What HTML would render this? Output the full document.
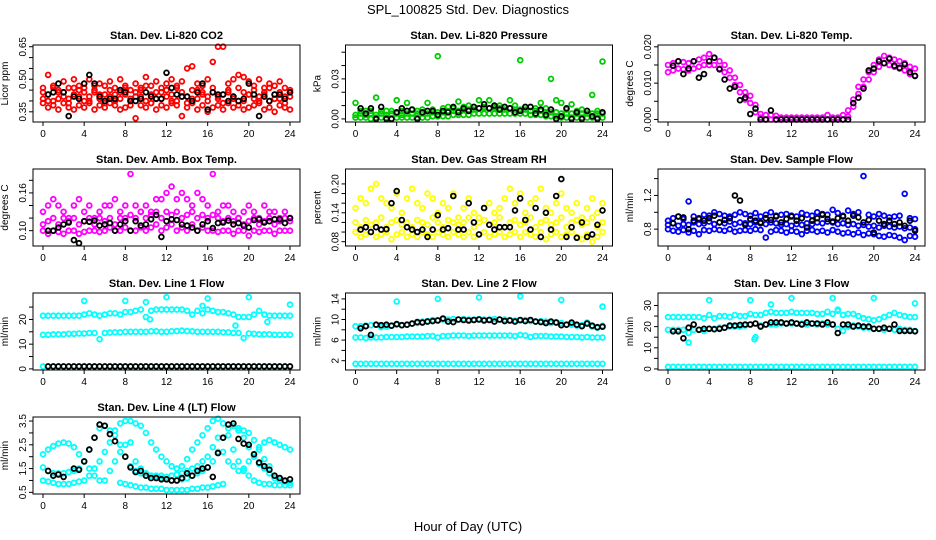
<!DOCTYPE html>
<html><head><meta charset="utf-8">
<style>
body{margin:0;background:#fff;}
svg{display:block;font-family:"Liberation Sans",Arial,sans-serif;}
</style></head>
<body>
<svg id="chart" width="936" height="540" viewBox="0 0 936 540" xmlns="http://www.w3.org/2000/svg">
<rect width="936" height="540" fill="#fff"/>
<text x="468" y="14" text-anchor="middle" font-size="13">SPL_100825  Std. Dev. Diagnostics</text>
<text x="468" y="531" text-anchor="middle" font-size="13">Hour of Day (UTC)</text>
<g id="panels"></g>
</svg>
<script>
// ---- data ----
const H=[0,0.5,1,1.5,2,2.5,3,3.5,4,4.5,5,5.5,6,6.5,7,7.5,8,8.5,9,9.5,10,10.5,11,11.5,12,12.5,13,13.5,14,14.5,15,15.5,16,16.5,17,17.5,18,18.5,19,19.5,20,20.5,21,21.5,22,22.5,23,23.5,24];
const xTicks=[0,4,8,12,16,20,24];

const co2Upper=[0.46,0.52,0.47,0.45,0.49,0.46,0.50,0.47,0.46,0.50,0.45,0.48,0.47,0.49,0.46,0.50,0.47,0.45,0.48,0.46,0.51,0.47,0.49,0.46,0.48,0.50,0.47,0.49,0.55,0.56,0.48,0.47,0.50,0.58,0.65,0.65,0.48,0.50,0.52,0.51,0.49,0.47,0.50,0.46,0.48,0.47,0.49,0.46,0.45];
const co2Mid=[0.41,0.43,0.40,0.44,0.42,0.41,0.43,0.45,0.40,0.42,0.44,0.41,0.43,0.42,0.40,0.44,0.43,0.41,0.42,0.45,0.40,0.43,0.41,0.44,0.42,0.43,0.40,0.44,0.42,0.41,0.45,0.43,0.42,0.44,0.41,0.43,0.45,0.42,0.40,0.44,0.43,0.41,0.42,0.44,0.40,0.43,0.41,0.42,0.44];
const co2Mid2=[0.44,0.40,0.46,0.41,0.44,0.39,0.46,0.42,0.44,0.40,0.47,0.43,0.39,0.45,0.43,0.41,0.46,0.40,0.44,0.42,0.47,0.39,0.44,0.41,0.45,0.40,0.46,0.42,0.39,0.45,0.41,0.44,0.40,0.46,0.42,0.39,0.44,0.41,0.46,0.40,0.43,0.45,0.40,0.43,0.46,0.41,0.44,0.39,0.42];
const co2Low=[0.39,0.37,0.38,0.36,0.39,0.37,0.36,0.38,0.37,0.39,0.36,0.38,0.37,0.39,0.38,0.36,0.37,0.38,0.32,0.38,0.37,0.39,0.36,0.38,0.37,0.39,0.38,0.33,0.37,0.39,0.36,0.38,0.35,0.37,0.38,0.36,0.39,0.37,0.38,0.36,0.37,0.38,0.39,0.36,0.37,0.35,0.38,0.37,0.36];
const co2Black=[null,0.43,0.44,0.48,0.44,0.33,0.42,0.41,0.48,0.52,0.48,0.42,0.40,0.41,0.41,0.45,0.44,0.40,0.40,0.41,0.44,0.42,0.41,0.41,0.53,0.46,0.43,0.42,0.42,0.40,0.44,0.48,0.36,0.44,0.43,0.43,0.40,0.42,0.40,0.41,0.48,0.43,0.33,0.42,0.40,0.43,0.43,0.41,0.44];

const presLow=[0.001,0.001,0.001,0,0.001,0.001,0.001,0,0.001,0.001,0.001,0.001,0.001,0.001,0.001,0.002,0.002,0.002,0.002,0.003,0.003,0.003,0.003,0.004,0.004,0.004,0.004,0.004,0.004,0.004,0.004,0.004,0.004,0.004,0.003,0.003,0.003,0.002,0.002,0.002,0.001,0.001,0.001,0.001,0.001,0.001,0.001,0.001,0.001];
const presMid=[0.003,0.004,0.003,0.004,0.003,0.004,0.003,0.004,0.004,0.003,0.004,0.004,0.004,0.004,0.004,0.005,0.005,0.005,0.006,0.006,0.006,0.007,0.007,0.007,0.008,0.008,0.008,0.008,0.008,0.007,0.008,0.007,0.007,0.007,0.006,0.006,0.006,0.005,0.005,0.005,0.004,0.004,0.004,0.004,0.004,0.004,0.004,0.004,0.004];
const presHigh=[0.012,0.006,0.006,0.006,0.016,0.006,0.006,0.006,0.014,0.006,0.012,0.007,0.006,0.007,0.012,0.007,0.047,0.008,0.009,0.008,0.013,0.009,0.010,0.009,0.014,0.009,0.014,0.009,0.010,0.009,0.014,0.010,0.044,0.009,0.009,0.008,0.012,0.008,0.030,0.014,0.012,0.007,0.011,0.006,0.007,0.006,0.018,0.006,0.043];
const presBlack=[null,0.008,0.004,0.008,0.0,0.009,0.0,0.0,0.005,0.008,0.006,0.007,0.0,0.005,0.006,0.006,0.003,0.006,0.005,0.009,0.005,0.008,0.006,0.009,0.008,0.011,0.008,0.010,0.007,0.009,0.008,0.005,0.006,0.009,0.009,0.004,0.007,0.003,0.007,0.0,0.002,0.008,0.0,0.005,0.0,0.006,0.002,0.0,0.005];

const tempHigh=[0.0150,0.0155,0.0160,0.0158,0.0155,0.0160,0.0165,0.0170,0.0180,0.0170,0.0160,0.0150,0.0135,0.0115,0.0095,0.0075,0.0065,0.0040,0.0015,0.0012,0.0012,0.0010,0.0005,0.0005,0.0005,0.0005,0.0005,0.0005,0.0005,0.0005,0.0005,0.0012,0.0005,0.0005,0.0012,0.0025,0.0055,0.0090,0.0110,0.0130,0.0150,0.0165,0.0175,0.0170,0.0165,0.0160,0.0155,0.0145,0.0140];
const tempLow=[0.0130,0.0135,0.0140,0.0138,0.0135,0.0140,0.0145,0.0150,0.0150,0.0150,0.0140,0.0130,0.0115,0.0095,0.0075,0.0055,0.0045,0.0020,0.0005,0,0,0,0,0,0,0,0,0,0,0,0,0,0,0,0,0.0008,0.0035,0.0070,0.0090,0.0110,0.0130,0.0145,0.0155,0.0150,0.0145,0.0140,0.0135,0.0125,0.0120];
const tempBlack=[null,0.0148,0.0160,0.0125,0.0140,0.0160,0.0115,0.0125,0.0160,0.0170,0.0138,0.0110,0.0085,0.0090,0.0053,0.0060,0.0015,0.0030,0,0,0.0025,0,0,0,0,0,0,0,0,0,0,0,0,0,0,0,0.0045,0.0060,0.0085,0.0135,0.0140,0.0160,0.0155,0.0167,0.0148,0.0142,0.0152,0.0130,0.0120];

const ambUpper=[0.13,0.14,0.15,0.14,0.13,0.12,0.14,0.15,0.13,0.14,0.12,0.13,0.14,0.14,0.15,0.13,0.14,0.19,0.14,0.13,0.14,0.13,0.15,0.15,0.16,0.17,0.15,0.16,0.15,0.14,0.16,0.15,0.14,0.19,0.13,0.14,0.14,0.13,0.12,0.13,0.14,0.13,0.12,0.14,0.13,0.13,0.12,0.13,0.12];
const ambMid=[0.11,0.115,0.12,0.11,0.12,0.115,0.12,0.11,0.115,0.12,0.11,0.12,0.115,0.12,0.11,0.12,0.12,0.125,0.12,0.13,0.12,0.125,0.13,0.12,0.13,0.125,0.13,0.12,0.125,0.13,0.12,0.125,0.12,0.125,0.12,0.115,0.12,0.115,0.12,0.11,0.115,0.12,0.11,0.115,0.12,0.11,0.115,0.12,0.115];
const ambLow=[0.10,0.095,0.10,0.098,0.095,0.10,0.10,0.095,0.098,0.10,0.10,0.098,0.10,0.105,0.10,0.10,0.105,0.10,0.10,0.105,0.10,0.105,0.11,0.10,0.105,0.11,0.10,0.105,0.10,0.11,0.10,0.105,0.10,0.10,0.098,0.10,0.10,0.095,0.10,0.10,0.092,0.10,0.098,0.10,0.10,0.095,0.10,0.10,0.10];
const ambBlack=[null,0.10,0.10,0.105,0.11,0.113,0.085,0.08,0.115,0.114,0.116,0.108,0.11,0.112,0.10,0.11,0.115,0.10,0.115,0.108,0.11,0.118,0.125,0.09,0.115,0.118,0.117,0.11,0.108,0.105,0.10,0.11,0.115,0.104,0.112,0.113,0.116,0.11,0.112,0.108,0.105,0.117,0.118,0.113,0.115,0.118,0.118,0.112,0.12];

const rhUpper=[0.15,0.17,0.16,0.19,0.20,0.17,0.16,0.15,0.18,0.14,0.17,0.19,0.16,0.15,0.18,0.17,0.14,0.16,0.15,0.18,0.13,0.15,0.17,0.14,0.13,0.15,0.16,0.14,0.15,0.17,0.19,0.16,0.18,0.14,0.16,0.17,0.19,0.15,0.14,0.16,0.18,0.15,0.14,0.16,0.13,0.15,0.17,0.14,0.16];
const rhMid=[0.12,0.11,0.125,0.115,0.12,0.13,0.11,0.12,0.125,0.115,0.12,0.11,0.125,0.12,0.115,0.13,0.12,0.11,0.125,0.12,0.115,0.12,0.13,0.11,0.12,0.125,0.115,0.12,0.13,0.11,0.12,0.125,0.115,0.12,0.13,0.11,0.12,0.125,0.115,0.12,0.13,0.11,0.12,0.125,0.115,0.12,0.13,0.11,0.12];
const rhLow=[0.10,0.09,0.095,0.10,0.09,0.095,0.10,0.085,0.095,0.10,0.09,0.095,0.09,0.10,0.095,0.09,0.10,0.095,0.09,0.10,0.095,0.09,0.10,0.09,0.095,0.10,0.09,0.095,0.10,0.09,0.095,0.10,0.09,0.10,0.095,0.09,0.10,0.085,0.095,0.10,0.09,0.095,0.10,0.09,0.085,0.095,0.08,0.09,0.10];
const rhBlack=[null,0.105,0.11,0.10,0.11,0.105,0.106,0.16,0.185,0.125,0.11,0.105,0.10,0.105,0.09,0.105,0.135,0.105,0.108,0.175,0.105,0.105,0.16,0.12,0.095,0.15,0.115,0.105,0.11,0.11,0.11,0.145,0.17,0.125,0.105,0.15,0.09,0.14,0.105,0.175,0.21,0.09,0.11,0.088,0.12,0.09,0.095,0.115,0.145];

const sfUpper=[0.90,0.93,0.95,0.92,1.13,0.95,0.93,0.97,0.96,1.00,0.98,0.96,0.95,0.97,1.00,0.98,0.96,0.99,0.95,0.97,1.00,0.96,0.97,0.98,0.96,0.95,0.99,0.97,0.96,1.00,0.98,0.97,1.03,0.99,0.96,1.02,0.98,1.00,1.43,0.97,0.95,0.98,0.96,0.94,0.95,0.96,1.22,0.93,0.92];
const sfMid=[0.85,0.87,0.84,0.86,0.85,0.88,0.86,0.87,0.89,0.86,0.88,0.87,0.89,0.86,0.88,0.87,0.86,0.88,0.87,0.86,0.88,0.87,0.85,0.86,0.84,0.86,0.85,0.87,0.86,0.88,0.87,0.89,0.88,0.86,0.87,0.85,0.86,0.84,0.85,0.83,0.84,0.82,0.84,0.83,0.82,0.83,0.81,0.82,0.80];
const sfLow=[0.80,0.78,0.77,0.79,0.76,0.78,0.74,0.79,0.78,0.80,0.79,0.78,0.80,0.77,0.78,0.79,0.78,0.80,0.79,0.70,0.77,0.79,0.78,0.76,0.78,0.77,0.74,0.78,0.79,0.77,0.78,0.76,0.79,0.77,0.75,0.76,0.74,0.76,0.73,0.75,0.74,0.72,0.71,0.73,0.72,0.70,0.67,0.72,0.71];
const sfBlack=[null,0.87,0.95,0.94,0.80,0.90,0.92,0.90,0.93,0.96,0.88,0.91,0.93,1.20,1.14,0.85,0.92,0.90,0.88,0.93,0.91,0.95,0.88,0.92,0.95,0.90,0.93,0.82,0.90,0.93,0.97,0.92,0.89,0.93,0.95,0.90,0.96,0.94,0.88,0.91,0.76,0.90,0.86,0.90,0.86,0.88,0.84,0.90,0.78];

const l1Upper=[21.5,21.5,21.5,21.5,21.5,21.5,21.5,21.5,22.0,22.5,22.0,21.5,22.0,22.5,22.5,22.0,23.0,23.0,23.5,24.0,21.0,23.5,24.0,24.0,24.0,24.0,24.0,24.0,23.5,22.0,23.5,22.5,24.0,23.5,23.0,23.0,22.5,22.0,21.0,21.0,21.0,22.0,23.5,22.0,21.5,21.5,21.5,21.5,21.5];
const l1Mid=[13.8,13.8,14.0,14.0,14.0,14.2,14.2,14.3,14.3,14.5,14.5,12.0,14.5,14.7,14.8,14.8,15.0,15.0,15.0,15.0,15.0,15.2,15.2,15.0,15.0,15.2,15.3,15.5,15.3,15.2,15.0,15.0,15.0,15.0,15.0,14.8,14.8,14.5,14.5,12.5,14.3,14.2,14.0,14.0,14.0,13.8,13.8,13.8,13.8];
const l1Low=[1,1,1,1,1,1,1,1,1,1,1,1,1,1,1,1,1,1,1,1,1,1,1,1,1,1,1,1,1,1,1,1,1,1,1,1,1,1,1,1,1,1,1,1,1,1,1,1,1];
const l1OutHours=[4,8,10,10.4,12,15.5,16,18.7,20,21.8,24];
const l1OutVals=[27.5,27.5,27,20,29,25.5,28.5,17.5,29,19,26];
const l1Black=[null,1,1,1,1,1,1,1,1,1,1,1,1,1,1,1,1,1,1,1,1,1,1,1,1,1,1,1,1,1,1,1,1,1,1,1,1,1,1,1,1,1,1,1,1,1,1,1,1];

const l2Upper=[8.7,8.7,8.8,8.9,9.0,8.5,8.6,8.8,9.0,8.9,9.0,9.2,9.3,9.6,9.7,9.9,9.9,10.0,10.0,10.1,10.0,10.1,10.0,10.0,10.1,10.0,10.0,10.1,10.0,10.0,9.9,9.8,9.8,9.9,9.7,9.6,9.7,9.6,9.3,9.5,9.3,9.0,9.0,8.8,8.9,9.4,8.6,8.4,8.8];
const l2Mid=[6.5,6.5,6.4,6.5,6.5,6.5,6.6,6.6,6.6,6.6,6.7,6.7,6.7,6.7,6.8,6.8,6.5,6.8,6.8,6.9,6.9,6.9,6.8,6.9,6.9,6.9,6.9,6.9,6.9,6.9,6.9,6.8,7.0,6.9,6.6,6.8,6.8,6.8,6.7,6.7,6.7,6.6,6.6,6.6,6.5,6.6,6.5,6.5,6.5];
const l2Low=[1.4,1.4,1.4,1.4,1.4,1.4,1.4,1.4,1.4,1.4,1.4,1.4,1.4,1.4,1.4,1.4,1.4,1.4,1.4,1.4,1.4,1.4,1.4,1.4,1.4,1.4,1.4,1.4,1.4,1.4,1.4,1.4,1.4,1.4,1.4,1.4,1.4,1.4,1.4,1.4,1.4,1.4,1.4,1.4,1.4,1.4,1.4,1.4,1.4];
const l2OutHours=[4,8,12,16,20,24];
const l2OutVals=[13.5,14,14.3,14.5,13.8,12.5];
const l2Black=[null,8.3,8.7,7.0,9.0,8.9,9.0,8.8,9.1,8.9,9.0,9.2,9.5,9.4,9.6,9.7,9.8,10.2,9.6,9.5,10.0,9.9,9.8,9.9,10.0,9.8,9.9,9.6,10.0,9.7,9.8,9.6,9.9,9.7,9.9,9.6,9.5,9.3,9.6,9.4,8.9,9.0,9.4,9.0,8.7,9.2,8.8,8.5,8.6];

const l3Upper=[24.5,24.5,24.5,24.5,24.5,24.5,24.5,24.0,25.5,24.0,25.0,25.0,24.5,25.5,25.0,25.0,26.0,25.5,25.5,26.5,27.0,26.5,26.5,26.5,27.0,26.5,26.5,26.5,26.5,26.0,26.0,27.0,26.0,27.5,25.5,26.0,26.0,25.0,24.0,23.5,23.0,23.5,24.5,25.5,26.5,25.5,25.0,24.5,24.5];
const l3Mid=[18.5,18.5,18.5,18.5,17.0,18.5,18.5,18.0,19.0,19.0,19.5,19.5,20.0,20.0,20.0,20.5,21.0,15.0,20.5,21.0,21.0,21.0,21.5,21.5,21.5,21.5,21.5,21.0,21.5,21.0,21.5,21.0,21.0,19.0,18.0,20.0,20.5,20.0,19.5,19.5,19.0,19.0,18.5,19.0,18.5,19.0,18.5,18.5,18.0];
const l3Low=[1,1,1,1,1,1,1,1,1,1,1,1,1,1,1,1,1,1,1,1,1,1,1,1,1,1,1,1,1,1,1,1,1,1,1,1,1,1,1,1,1,1,1,1,1,1,1,1,1];
const l3OutHours=[2,4,8,8.4,10,12,16,16.5,20,24];
const l3OutVals=[12.5,32.5,32.5,14,30.5,33.5,33.5,28,33.5,31];
const l3Black=[null,17.8,17.8,14.5,19.5,21,18.5,19,19,18.8,19,19.5,20.5,20.5,20.8,21,21,21.5,20,21,22,22,22,21.5,22,21.5,21,22,21.5,21.5,21,22,21,17,21,21,20,20.5,20,20,19,19,19.5,19,21,18,18,18,17.8];

const l4A=[2.1,2.3,2.45,2.55,2.6,2.55,2.4,2.1,1.8,1.5,1.2,1.0,1.0,1.4,1.8,2.2,2.5,2.6,1.8,1.5,1.3,1.2,1.2,1.2,1.15,1.2,1.25,1.3,1.4,1.5,1.6,1.8,2.0,2.4,2.8,2.2,1.8,1.6,1.4,1.5,1.8,2.1,2.4,2.6,2.7,2.6,2.5,2.4,2.3];
const l4B=[1.55,1.4,1.3,1.3,1.3,1.35,1.4,1.5,1.8,2.3,2.8,3.2,3.3,3.1,2.9,2.5,2.0,1.6,1.4,1.3,1.3,1.2,1.15,1.1,1.05,1.0,1.0,1.05,1.1,1.2,1.3,1.4,1.55,1.8,2.2,2.8,3.2,3.3,3.1,2.8,2.4,2.0,1.7,1.5,1.3,1.1,1.0,0.95,0.9];
const l4C=[1.0,0.95,0.9,0.85,0.85,0.85,0.9,0.95,1.0,1.2,1.5,1.8,2.2,2.6,3.1,3.4,3.5,3.5,3.4,3.3,3.0,2.6,2.3,2.0,1.8,1.6,1.5,1.6,1.9,2.3,2.6,2.9,3.2,3.5,3.6,3.4,2.9,2.3,1.8,1.4,1.2,1.0,0.9,0.85,0.85,0.8,0.8,0.8,0.8];
const l4D=[null,null,null,null,null,null,null,null,null,null,null,null,null,null,null,0.9,0.85,0.8,0.75,0.7,0.7,0.65,0.65,0.65,0.6,0.6,0.6,0.6,0.6,0.65,0.65,0.7,0.7,0.75,0.8,0.85,null,3.3,3.2,3.1,3.0,2.7,2.3,1.9,1.6,null,null,null,null];
const l4Black=[null,1.4,1.2,1.25,1.15,null,1.5,1.45,1.8,2.3,2.8,3.35,3.3,2.95,2.65,null,2.0,1.55,1.35,1.4,1.2,1.1,1.1,1.05,1.05,1.0,1.0,1.1,1.3,1.2,1.4,1.5,1.55,1.15,2.15,2.8,3.35,3.4,2.75,2.55,2.5,2.1,1.75,1.6,1.45,1.2,1.1,1.0,1.05];

// ---- layout / rendering ----
const NS='http://www.w3.org/2000/svg';
const root=document.getElementById('panels');
function mk(tag,attrs,parent){const e=document.createElementNS(NS,tag);for(const k in attrs)e.setAttribute(k,attrs[k]);(parent||root).appendChild(e);return e;}

const RED='#ff0000',GRN='#00cd00',MAG='#ff00ff',YEL='#ffff00',BLU='#0000ff',CYN='#00ffff',BLK='#000000';
const panels=[
 {c:0,r:0,name:'co2',title:'Stan. Dev. Li-820 CO2',ylab:'Licor ppm',ymin:0.303,ymax:0.658,ticks:[0.35,0.40,0.45,0.50,0.55,0.60,0.65],labels:[0.35,0.50,0.65],fmt:2,
  series:[[H,co2Upper,RED],[H,co2Mid,RED],[H,co2Mid2,RED],[H,co2Low,RED],[H,co2Black,BLK]]},
 {c:1,r:0,name:'pressure',title:'Stan. Dev. Li-820 Pressure',ylab:'kPa',ymin:-0.0023,ymax:0.0554,ticks:[0,0.01,0.02,0.03,0.04,0.05],labels:[0,0.03],fmt:2,
  series:[[H,presLow,GRN],[H,presMid,GRN],[H,presHigh,GRN],[H,presBlack,BLK]]},
 {c:2,r:0,name:'temp',title:'Stan. Dev. Li-820 Temp.',ylab:'degrees C',ymin:-0.0007,ymax:0.0205,ticks:[0,0.005,0.010,0.015,0.020],labels:[0,0.010,0.020],fmt:3,
  series:[[H,tempHigh,MAG],[H,tempLow,MAG],[H,tempBlack,BLK]]},
 {c:0,r:1,name:'amb-box-temp',title:'Stan. Dev. Amb. Box Temp.',ylab:'degrees C',ymin:0.0756,ymax:0.198,ticks:[0.10,0.12,0.14,0.16,0.18],labels:[0.10,0.16],fmt:2,
  series:[[H,ambUpper,MAG],[H,ambMid,MAG],[H,ambLow,MAG],[H,ambBlack,BLK]]},
 {c:1,r:1,name:'gas-rh',title:'Stan. Dev. Gas Stream RH',ylab:'percent',ymin:0.071,ymax:0.231,ticks:[0.08,0.10,0.12,0.14,0.16,0.18,0.20],labels:[0.08,0.14,0.20],fmt:2,
  series:[[H,rhUpper,YEL],[H,rhMid,YEL],[H,rhLow,YEL],[H,rhBlack,BLK]]},
 {c:2,r:1,name:'sample-flow',title:'Stan. Dev. Sample Flow',ylab:'ml/min',ymin:0.60,ymax:1.514,ticks:[0.8,1.0,1.2,1.4],labels:[0.8,1.2],fmt:1,
  series:[[H,sfUpper,BLU],[H,sfMid,BLU],[H,sfLow,BLU],[H,sfBlack,BLK]]},
 {c:0,r:2,name:'line1-flow',title:'Stan. Dev. Line 1 Flow',ylab:'ml/min',ymin:-0.45,ymax:30.7,ticks:[0,5,10,15,20,25],labels:[0,10,20],fmt:0,
  series:[[H,l1Upper,CYN],[H,l1Mid,CYN],[H,l1Low,CYN],[l1OutHours,l1OutVals,CYN],[H,l1Black,BLK]]},
 {c:1,r:2,name:'line2-flow',title:'Stan. Dev. Line 2 Flow',ylab:'ml/min',ymin:0.19,ymax:15.15,ticks:[2,4,6,8,10,12,14],labels:[2,6,10,14],fmt:0,
  series:[[H,l2Upper,CYN],[H,l2Mid,CYN],[H,l2Low,CYN],[l2OutHours,l2OutVals,CYN],[H,l2Black,BLK]]},
 {c:2,r:2,name:'line3-flow',title:'Stan. Dev. Line 3 Flow',ylab:'ml/min',ymin:-0.5,ymax:35.9,ticks:[0,5,10,15,20,25,30],labels:[0,10,20,30],fmt:0,
  series:[[H,l3Upper,CYN],[H,l3Mid,CYN],[H,l3Low,CYN],[l3OutHours,l3OutVals,CYN],[H,l3Black,BLK]]},
 {c:0,r:3,name:'line4-flow',title:'Stan. Dev. Line 4 (LT) Flow',ylab:'ml/min',ymin:0.43,ymax:3.67,ticks:[0.5,1.0,1.5,2.0,2.5,3.0,3.5],labels:[0.5,1.5,2.5,3.5],fmt:1,
  series:[[H,l4A,CYN],[H,l4B,CYN],[H,l4C,CYN],[H,l4D,CYN],[H,l4Black,BLK]]}
];

panels.forEach(p=>{
  const L=33+p.c*312.5, T=45+p.r*124, W=267, HT=77, B=T+HT, R=L+W;
  const xs=h=>L+10+h*(247/24);
  const ys=v=>B-(v-p.ymin)/(p.ymax-p.ymin)*HT;
  const g=mk('g',{});
  
  
  const t=mk('text',{x:L+W/2,y:T-6,'text-anchor':'middle','font-size':'11','font-weight':'bold'},g);
  t.textContent=p.title;
  
  
  const yl=mk('text',{x:0,y:0,'text-anchor':'middle','font-size':'10',transform:`translate(${L-25},${T+HT/2}) rotate(-90)`},g);
  yl.textContent=p.ylab;
  
  
  const pts=mk('g',{fill:'none','stroke-width':'1.8'},g);
  
  
  p.series.forEach(s=>{
    const xv=s[0],yv=s[1],col=s[2];
    for(let i=0;i<yv.length;i++){
      if(yv[i]===null||yv[i]===undefined)continue;
      const c=mk('circle',{cx:xs(xv[i]).toFixed(1),cy:ys(yv[i]).toFixed(1),r:'2.4',stroke:col},pts);
      
      
    }
  });
  const box=mk('rect',{x:L,y:T,width:W,height:HT,fill:'none',stroke:'#000','stroke-width':'1'},g);
  
  
  const xa=mk('g',{},g);
  
  
  mk('line',{x1:xs(0),x2:xs(24),y1:B,y2:B,stroke:'#000'},xa);
  xTicks.forEach(h=>{
    mk('line',{x1:xs(h),x2:xs(h),y1:B,y2:B+4,stroke:'#000'},xa);
    const tl=mk('text',{x:xs(h),y:B+15,'text-anchor':'middle','font-size':'10'},xa);
    tl.textContent=h;
    
    
  });
  const ya=mk('g',{},g);
  
  
  const t0=p.ticks[0],t1=p.ticks[p.ticks.length-1];
  mk('line',{x1:L,x2:L,y1:ys(t0),y2:ys(t1),stroke:'#000'},ya);
  p.ticks.forEach(v=>{mk('line',{x1:L-4,x2:L,y1:ys(v),y2:ys(v),stroke:'#000'},ya);});
  p.labels.forEach(v=>{
    const yt=mk('text',{x:0,y:0,'text-anchor':'middle','font-size':'10',transform:`translate(${L-7},${ys(v)}) rotate(-90)`},ya);
    yt.textContent=v.toFixed(p.fmt);
    
    
  });
});
</script>
</body></html>
